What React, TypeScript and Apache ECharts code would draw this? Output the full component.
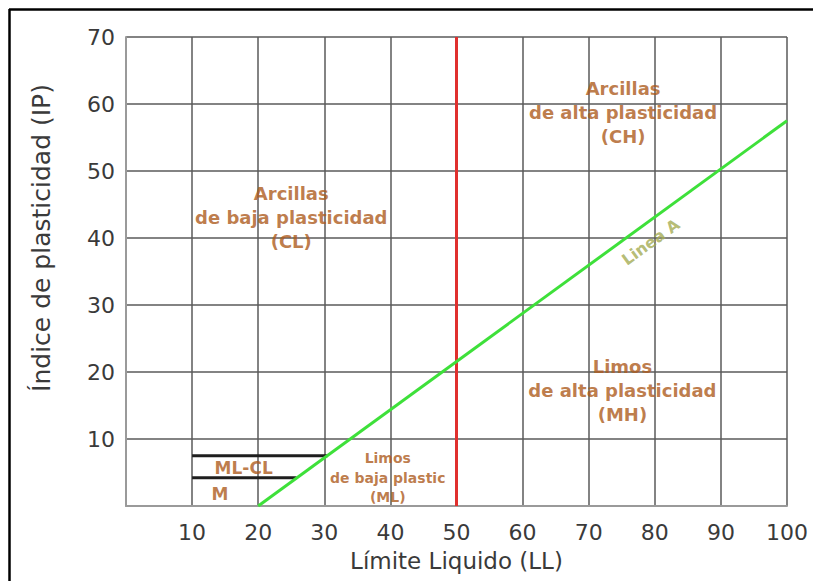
import React, { useEffect, useRef } from "react";
import * as echarts from "echarts";

const xTicks = [10, 20, 30, 40, 50, 60, 70, 80, 90, 100];
const yTicks = [10, 20, 30, 40, 50, 60, 70];
const lineA = [[20, 0], [100, 57.5]];
const llLimit = [[50, 0], [50, 70]];
const mlClUpper = [[10, 7.5], [30.5, 7.5]];
const mlClLower = [[10, 4.2], [25.8, 4.2]];
const regionLabels = [
  { value: [25, 43], text: "Arcillas\nde baja plasticidad\n(CL)" },
  { value: [75.2, 58.7], text: "Arcillas\nde alta plasticidad\n(CH)" },
  { value: [75.1, 17.3], text: "Limos\nde alta plasticidad\n(MH)" },
];
const smallLabels = [{ value: [39.6, 4.2], text: "Limos\nde baja plastic\n(ML)" }];
const zoneLabels = [
  { value: [17.8, 5.7], text: "ML-CL" },
  { value: [14.2, 1.8], text: "M" },
];
const lineALabel = [{ value: [79.4, 39.4], text: "Linea A" }];
const yTitle = "Índice de plasticidad (IP)";
const xTitle = "Límite Liquido (LL)";

const BROWN = "#ad5a1c";
const FONT = "DejaVu Sans";

export default function App() {
  const ref = useRef<HTMLDivElement>(null);
  useEffect(() => {
    document.body.style.margin = "0";
    if (!ref.current) return;
    const chart = echarts.init(ref.current, null, { renderer: "svg" });
    const textScatter = (data: any[], size: number, color: string, lh: number, extra: any = {}) => ({
      type: "scatter",
      symbolSize: 0,
      silent: true,
      data: data.map((d) => ({ value: d.value, name: d.text })),
      label: {
        show: true,
        position: "inside",
        formatter: (p: any) => p.name,
        fontFamily: FONT,
        fontWeight: "bold",
        fontSize: size,
        color,
        lineHeight: lh,
        align: "center",
        verticalAlign: "middle",
        ...extra,
      },
      z: 10,
    });
    chart.setOption({
      animation: false,
      backgroundColor: "#ffffff",
      grid: { left: 126, right: 26, top: 37, bottom: 75 },
      xAxis: {
        type: "value",
        min: 0,
        max: 100,
        interval: 10,
        name: xTitle,
        nameLocation: "middle",
        nameGap: 43,
        nameTextStyle: { fontFamily: FONT, fontSize: 23, color: "#3a3a3a" },
        axisLine: { show: true, lineStyle: { color: "#9a9a9a", width: 2 } },
        axisTick: { show: false },
        splitLine: { show: true, lineStyle: { color: "#5a5a5a", width: 1.5 } },
        axisLabel: {
          fontFamily: FONT,
          fontSize: 22,
          color: "#3a3a3a",
          margin: 15,
          formatter: (v: number) => (xTicks.includes(v) ? String(v) : ""),
        },
      },
      yAxis: {
        type: "value",
        min: 0,
        max: 70,
        interval: 10,
        axisLine: { show: true, lineStyle: { color: "#9a9a9a", width: 2 } },
        axisTick: { show: false },
        splitLine: { show: true, lineStyle: { color: "#5a5a5a", width: 1.5 } },
        axisLabel: {
          fontFamily: FONT,
          fontSize: 22,
          color: "#3a3a3a",
          margin: 11,
          formatter: (v: number) => (yTicks.includes(v) ? String(v) : ""),
        },
      },
      graphic: [
        { type: "line", shape: { x1: 9.5, y1: 9, x2: 9.5, y2: 581 }, style: { stroke: "#000", lineWidth: 2.5 } },
        { type: "line", shape: { x1: 9, y1: 9.5, x2: 813, y2: 9.5 }, style: { stroke: "#000", lineWidth: 2.5 } },
        {
          type: "text",
          x: 41,
          y: 238,
          rotation: Math.PI / 2,
          style: {
            text: yTitle,
            fontFamily: FONT,
            fontSize: 25,
            fill: "#3a3a3a",
            align: "center",
            verticalAlign: "middle",
          },
        },
      ],
      series: [
        { type: "line", data: llLimit, symbol: "none", lineStyle: { color: "#e0302e", width: 3 }, z: 5 },
        { type: "line", data: lineA, symbol: "none", lineStyle: { color: "#3ee03a", width: 3 }, z: 6 },
        { type: "line", data: mlClUpper, symbol: "none", lineStyle: { color: "#1e1e1e", width: 3 }, z: 4 },
        { type: "line", data: mlClLower, symbol: "none", lineStyle: { color: "#1e1e1e", width: 3 }, z: 4 },
        textScatter(regionLabels, 18, BROWN, 24),
        textScatter(smallLabels, 14, BROWN, 19.5),
        textScatter(zoneLabels, 17, BROWN, 20),
        textScatter(lineALabel, 16, "#a3ab52", 18, { rotate: 36 }),
      ],
    });
    return () => chart.dispose();
  }, []);
  return <div ref={ref} style={{ width: 813, height: 581 }} />;
}
